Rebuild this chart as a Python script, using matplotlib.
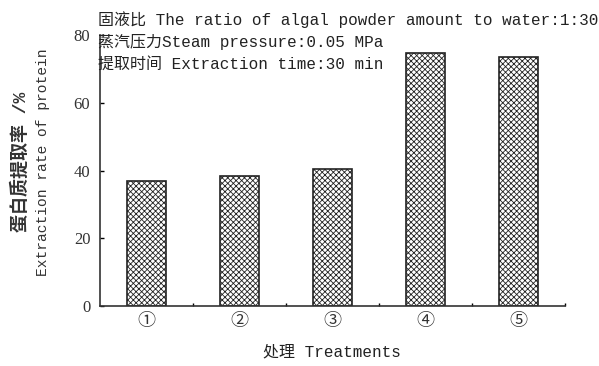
import matplotlib
matplotlib.use('Agg')
from matplotlib import pyplot as plt

plt.rcParams['font.family'] = ['Liberation Serif', 'Noto Sans CJK SC', 'DejaVu Sans']
plt.rcParams['hatch.color'] = '#555555'
plt.rcParams['hatch.linewidth'] = 0.6

MONO = ['Liberation Mono', 'Noto Sans CJK SC', 'DejaVu Sans']

# данные
treatments = ['①', '②', '③', '④', '⑤']
rates = [36.9, 38.3, 40.6, 74.7, 73.5]

notes = ['固液比 The ratio of algal powder amount to water:1:30',
         '蒸汽压力Steam pressure:0.05 MPa',
         '提取时间 Extraction time:30 min']

fig = plt.figure(figsize=(5.99, 3.66), dpi=100)
ax = fig.add_axes([0.167, 0.164, 0.776, 0.740])

x = list(range(1, len(treatments) + 1))
ax.bar(x, rates, width=0.42, color='white', edgecolor='#222222',
       linewidth=1.2, hatch='xxxxxx')

ax.set_xlim(0.5, 5.5)
ax.set_ylim(0, 80)
ax.set_yticks([0, 20, 40, 60, 80])
ax.set_xticks(x)
ax.set_xticklabels(treatments, fontsize=13, color='#333333')
ax.set_xticks([1.5, 2.5, 3.5, 4.5, 5.5], minor=True)
ax.tick_params(axis='x', which='major', length=0, pad=5)
ax.tick_params(axis='x', which='minor', direction='in', length=2, width=1)
ax.tick_params(axis='y', direction='in', length=3, width=1, labelsize=12,
               labelcolor='#333333', pad=7)

for side in ['top', 'right']:
    ax.spines[side].set_visible(False)
for side in ['left', 'bottom']:
    ax.spines[side].set_linewidth(1.2)
    ax.spines[side].set_color('#333333')

for i, line in enumerate(notes):
    fig.text(0.164, 1 - (20 + 22 * i) / 366, line, fontsize=11.5,
             family=MONO, color='#222222', va='center', ha='left')

fig.text(21 / 599, 1 - 162 / 366, '蛋白质提取率 /%', rotation=90, fontsize=13,
         family=MONO, fontweight='bold', va='center', ha='center', color='#333333')
fig.text(43 / 599, 1 - 162 / 366, 'Extraction rate of protein', rotation=90,
         fontsize=10.5, family=MONO, va='center', ha='center', color='#333333')
fig.text(332 / 599, 1 - 352 / 366, '处理 Treatments', fontsize=11.5,
         family=MONO, va='center', ha='center', color='#222222')

plt.savefig('out.png', dpi=100)
